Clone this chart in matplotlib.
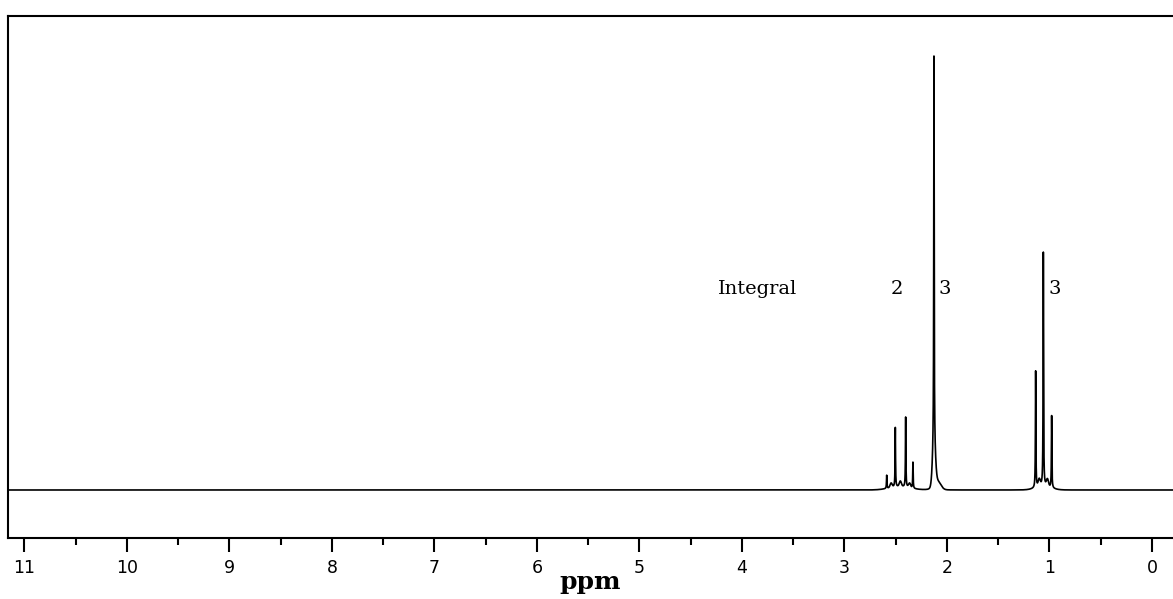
import numpy as np
import matplotlib
matplotlib.use("Agg")
import matplotlib.pyplot as plt
from matplotlib.ticker import MultipleLocator

# ---- data (ppm, relative intensity) ----
# sharp lines
line_ppm = [2.588, 2.504, 2.403, 2.332, 2.127, 1.135, 1.060, 0.979]
line_height = [3.4, 14.4, 16.8, 6.4, 100.0, 27.4, 54.8, 17.1]
# broader base features under the multiplets
base_ppm = [2.127, 2.090, 2.460, 2.545, 2.455, 2.365, 1.060, 1.100, 1.020]
base_height = [9.0, 1.8, 0.8, 1.0, 1.2, 1.0, 0.9, 1.6, 1.6]
base_sigma = [0.014, 0.03, 0.10, 0.01, 0.01, 0.01, 0.07, 0.01, 0.01]

tick_values = list(range(0, 12))
tick_labels = [str(v) for v in tick_values]

integral_ppm = [2.49, 2.02, 0.95]
integral_text = ["2", "3", "3"]

# ---- build spectrum ----
x = np.linspace(11.3, -0.3, 60000)
base = np.zeros_like(x)
for p, h, s in zip(base_ppm, base_height, base_sigma):
    base += h * np.exp(-0.5 * ((x - p) / s) ** 2)
y = base.copy()
w = 0.0025
for p, h in zip(line_ppm, line_height):
    # scale each sharp line so that the total at its centre equals its read height
    under = np.interp(-p, -x, base)
    y += (h - under) / (1 + ((x - p) / w) ** 2)

fig = plt.figure(figsize=(11.73, 5.99), dpi=100)
ax = fig.add_axes([8 / 1173, 1 - 538 / 599, 1 - 8 / 1173, (538 - 16) / 599])
ax.plot(x, y, color="black", lw=1.2)
ax.set_xlim(11.16, -0.205)
ax.set_ylim(-11.06, 109.2)

for side in ["top", "left", "bottom"]:
    ax.spines[side].set_linewidth(1.5)
ax.spines["right"].set_visible(False)

ax.set_yticks([])
ax.set_xticks(tick_values)
ax.set_xticklabels(tick_labels, fontfamily="DejaVu Sans", fontsize=12.5)
ax.xaxis.set_minor_locator(MultipleLocator(0.5))
ax.tick_params(axis="x", which="major", direction="out", length=10, width=1.5, pad=5)
ax.tick_params(axis="x", which="minor", direction="out", length=5, width=1.5)

ax.set_xlabel("ppm", fontfamily="DejaVu Serif", fontweight="bold", fontsize=18, labelpad=-5)

ax.text(4.23, 46.3, "Integral", fontfamily="DejaVu Serif", fontsize=14,
        ha="left", va="center")
for p, t in zip(integral_ppm, integral_text):
    ax.text(p, 46.3, t, fontfamily="DejaVu Serif", fontsize=14, ha="center", va="center")

fig.savefig("out.png", dpi=100)
